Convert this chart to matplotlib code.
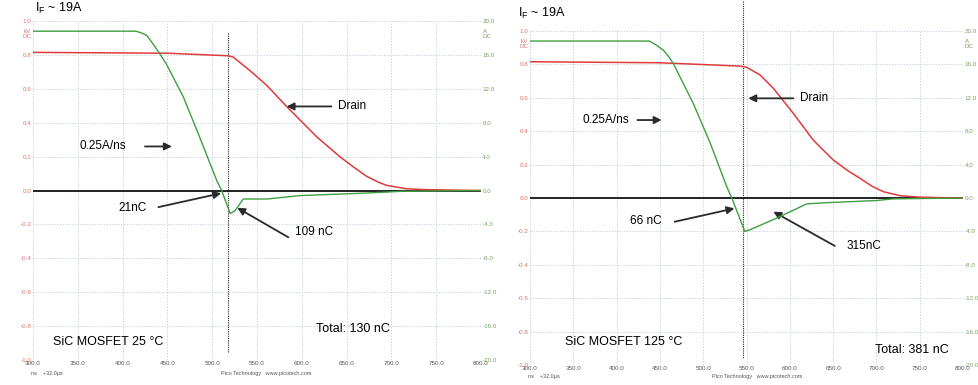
import numpy as np
import matplotlib
matplotlib.use("Agg")
import matplotlib.pyplot as plt

plt.rcParams["font.family"] = ["Liberation Sans", "DejaVu Sans"]

# ---- data (time in ns, drain in kV, current in A)
t_green_25 = [300, 415, 421, 427, 434, 441.7, 449, 468, 486, 505, 510.6, 520, 525.4, 534.7, 561, 598, 672, 710, 800]
i_green_25 = [18.8, 18.8, 18.6, 18.3, 17.3, 16.1, 14.9, 11.0, 6.3, 1.2, 0.0, -2.7, -2.4, -1.0, -1.0, -0.6, -0.3, -0.1, 0.0]
t_red_25 = [300, 450, 518, 523.5, 542, 561, 583, 617, 643, 660, 672, 685, 695, 717, 740, 800]
v_red_25 = [0.815, 0.81, 0.795, 0.787, 0.708, 0.62, 0.496, 0.315, 0.197, 0.13, 0.085, 0.05, 0.03, 0.01, 0.005, 0.0]

t_green_125 = [300, 438, 446, 454, 459.7, 465.5, 488.6, 508, 527, 533, 548, 554, 585, 619.5, 642.6, 700, 719.5, 800]
i_green_125 = [18.8, 18.8, 18.3, 17.7, 17.0, 16.1, 11.3, 6.6, 1.4, 0.0, -4.0, -3.8, -2.4, -0.7, -0.56, -0.3, -0.1, 0.0]
t_red_125 = [300, 450, 542.5, 550, 565.6, 581, 604, 627, 650, 668, 681, 695, 708, 727, 750, 800]
v_red_125 = [0.816, 0.81, 0.79, 0.783, 0.737, 0.657, 0.507, 0.347, 0.228, 0.16, 0.118, 0.07, 0.038, 0.014, 0.005, 0.0]

cursor_25 = 518
cursor_125 = 545.6

x_ticks = np.arange(300, 801, 50)
kv_ticks = [-1.0, -0.8, -0.6, -0.4, -0.2, 0.0, 0.2, 0.4, 0.6, 0.8, 1.0]
a_ticks = np.arange(-20, 21, 4)

RED = "#e03a3a"
GREEN = "#3f9f3f"
RED_LBL = "#e07070"
GREEN_LBL = "#7aa060"
GRID = "#ccd6de"
ARROW = "#2a2a2a"


def scope_panel(fig, rect, t_g, i_g, t_r, v_r, cursor, cursor_top, foot_y):
    ax = fig.add_axes(rect)
    ax.set_xlim(300, 800)
    ax.set_ylim(-1.0, 1.0)
    for s in ax.spines.values():
        s.set_visible(False)
    ax.set_xticks(x_ticks)
    ax.set_xticklabels([f"{v:.1f}" for v in x_ticks], color="#555555")
    ax.set_yticks(kv_ticks)
    ax.set_yticklabels([f"{v:.1f}" for v in kv_ticks], color=RED_LBL)
    ax.tick_params(length=0, labelsize=4.5, pad=1)
    ax.grid(True, color=GRID, linestyle=(0, (1.5, 1.5)), linewidth=0.7)
    ax.text(-0.004, 0.975, "kV\nDC", transform=ax.transAxes, ha="right", va="top",
            fontsize=4.5, color=RED_LBL, linespacing=0.9)

    ax2 = ax.twinx()
    ax2.set_ylim(-20, 20)
    for s in ax2.spines.values():
        s.set_visible(False)
    ax2.set_yticks(a_ticks)
    ax2.set_yticklabels([f"{v:.1f}" for v in a_ticks], color=GREEN_LBL)
    ax2.tick_params(length=0, labelsize=4.5, pad=1)
    ax2.text(1.004, 0.975, "A\nDC", transform=ax.transAxes, ha="left", va="top",
             fontsize=4.5, color=GREEN_LBL, linespacing=0.9)

    ax.axhline(0, color="#111111", lw=1.3, zorder=2)
    ax.plot([cursor, cursor], [cursor_top, -0.96], color="#222222", lw=0.8,
            linestyle=(0, (1, 1)), zorder=3, clip_on=False)
    ax.plot(t_r, v_r, color=RED, lw=1.1, zorder=4)
    ax2.plot(t_g, i_g, color=GREEN, lw=1.0, zorder=4)

    ax.text(-0.005, foot_y, "ns    +32.0\u00b5s", transform=ax.transAxes, fontsize=4, color="#555555",
            ha="left", va="top")
    ax.text(0.42, foot_y, "Pico Technology   www.picotech.com", transform=ax.transAxes,
            fontsize=4, color="#555555", ha="left", va="top")
    return ax


def arrow(ax, xy, xytext):
    ax.annotate("", xy=xy, xytext=xytext,
                arrowprops=dict(arrowstyle="-|>", color=ARROW, lw=1.3, mutation_scale=11,
                                shrinkA=0, shrinkB=0), zorder=6)


fig = plt.figure(figsize=(9.79, 3.85), dpi=100)

# left: 25 C
ax = scope_panel(fig, [0.0337, 0.0649, 0.4576, 0.8805],
                 t_green_25, i_green_25, t_red_25, v_red_25, cursor_25, 0.93, -0.032)
ax.text(302, 1.03, "I$_\\mathregular{F}$ ~ 19A", fontsize=9, ha="left", va="bottom")
ax.text(352, 0.26, "0.25A/ns", fontsize=8.5, ha="left", va="center")
arrow(ax, (455, 0.26), (425, 0.26))
ax.text(640, 0.496, "Drain", fontsize=8.5, ha="left", va="center")
arrow(ax, (583, 0.496), (633, 0.496))
ax.text(395, -0.106, "21nC", fontsize=8.5, ha="left", va="center")
arrow(ax, (510, -0.016), (440, -0.098))
ax.text(592, -0.246, "109 nC", fontsize=8.5, ha="left", va="center")
arrow(ax, (528, -0.102), (585, -0.276))
ax.text(322, -0.895, "SiC MOSFET 25 \u00b0C", fontsize=9, ha="left", va="center")
ax.text(616, -0.816, "Total: 130 nC", fontsize=9, ha="left", va="center")

# right: 125 C
ax = scope_panel(fig, [0.5414, 0.0519, 0.4423, 0.8675],
                 t_green_125, i_green_125, t_red_125, v_red_125, cursor_125, 1.18, -0.026)
ax.text(286, 1.06, "I$_\\mathregular{F}$ ~ 19A", fontsize=9, ha="left", va="bottom")
ax.text(361, 0.467, "0.25A/ns", fontsize=8.5, ha="left", va="center")
arrow(ax, (452, 0.467), (424, 0.467))
ax.text(612, 0.597, "Drain", fontsize=8.5, ha="left", va="center")
arrow(ax, (552, 0.597), (604, 0.597))
ax.text(415, -0.136, "66 nC", fontsize=8.5, ha="left", va="center")
arrow(ax, (536, -0.062), (467, -0.142))
ax.text(666, -0.287, "315nC", fontsize=8.5, ha="left", va="center")
arrow(ax, (581, -0.082), (652, -0.287))
ax.text(340, -0.86, "SiC MOSFET 125 \u00b0C", fontsize=9, ha="left", va="center")
ax.text(698, -0.91, "Total: 381 nC", fontsize=9, ha="left", va="center")

fig.savefig("out.png", dpi=100)
